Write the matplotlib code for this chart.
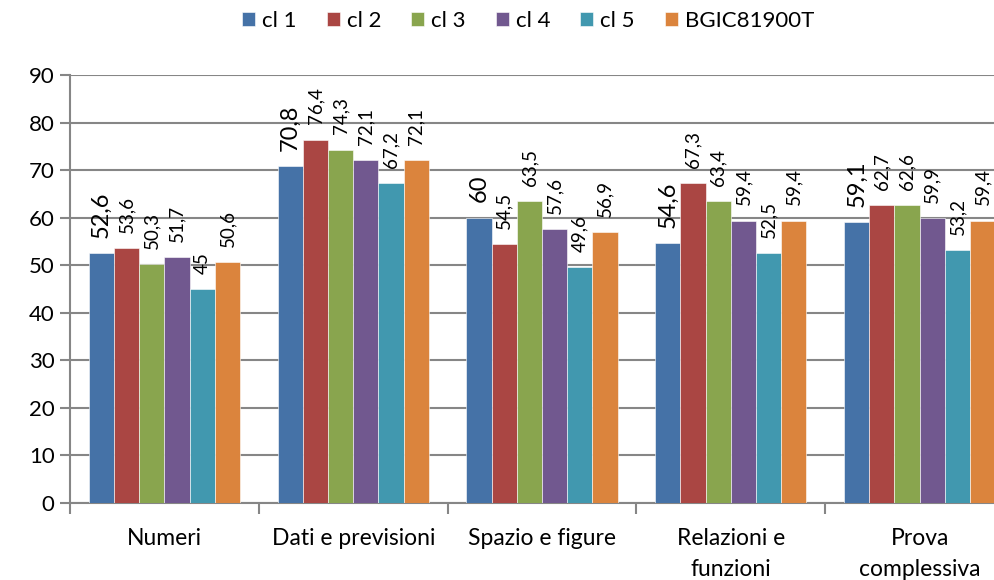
import matplotlib
matplotlib.use("Agg")
import matplotlib.pyplot as plt
import numpy as np

plt.rcParams['font.family'] = ['Lato', 'DejaVu Sans']

categories = ["Numeri", "Dati e previsioni", "Spazio e figure", "Relazioni e\nfunzioni", "Prova\ncomplessiva"]
series_names = ["cl 1", "cl 2", "cl 3", "cl 4", "cl 5", "BGIC81900T"]
cl1 = [52.6, 70.8, 60.0, 54.6, 59.1]
cl2 = [53.6, 76.4, 54.5, 67.3, 62.7]
cl3 = [50.3, 74.3, 63.5, 63.4, 62.6]
cl4 = [51.7, 72.1, 57.6, 59.4, 59.9]
cl5 = [45.0, 67.2, 49.6, 52.5, 53.2]
bgic = [50.6, 72.1, 56.9, 59.4, 59.4]
series = [cl1, cl2, cl3, cl4, cl5, bgic]
colors = ["#4572A7", "#AA4643", "#89A54E", "#71588F", "#4198AF", "#DB843D"]
yticks = [0, 10, 20, 30, 40, 50, 60, 70, 80, 90]

W, H = 994, 580
fig = plt.figure(figsize=(W / 100, H / 100), dpi=100)
ax = fig.add_axes([70 / W, 1 - 503 / H, (1014 - 70) / W, (503 - 75) / H])

n = len(series)
bw = 0.8 / n
x = np.arange(len(categories))
for i, (vals, c, name) in enumerate(zip(series, colors, series_names)):
    pos = x - 0.4 + bw * (i + 0.5)
    ax.bar(pos, vals, width=bw, color=c, label=name, edgecolor="white", linewidth=0.4, zorder=3)
    for p, v in zip(pos, vals):
        lab = ("%g" % v).replace(".", ",")
        ax.annotate(lab, (p, v), xytext=(0, 11), textcoords="offset points",
                    rotation=90, ha="center", va="bottom",
                    fontsize=17 if i == 0 else 13.5, color="black")

ax.set_xlim(-0.5, len(categories) - 0.5)
ax.set_ylim(0, 90)
ax.set_yticks(yticks)
ax.set_yticklabels([str(t) for t in yticks], fontsize=16)
ax.yaxis.grid(True, color="#868686", linewidth=1.5, zorder=0)
ax.set_axisbelow(True)

ax.set_xticks(np.arange(len(categories) + 1) - 0.5)
ax.set_xticklabels([])
ax.set_xticks(x, minor=True)
ax.set_xticklabels(categories, minor=True, fontsize=16.5, linespacing=1.6)
ax.tick_params(axis="x", which="minor", length=0, pad=18)
ax.tick_params(axis="x", which="major", length=8, width=1.5, color="#868686", direction="out")
ax.tick_params(axis="y", length=7, width=1.5, color="#868686", direction="out", pad=4)

for s in ["top", "right"]:
    ax.spines[s].set_visible(False)
for s in ["left", "bottom"]:
    ax.spines[s].set_color("#868686")
    ax.spines[s].set_linewidth(1.5)

fig.legend(loc="center", bbox_to_anchor=(528 / W, 1 - 21 / H), ncol=6, frameon=False,
           fontsize=16, handlelength=0.6, handleheight=0.6, handletextpad=0.3,
           columnspacing=1.35)

fig.savefig("out.png", dpi=100)
